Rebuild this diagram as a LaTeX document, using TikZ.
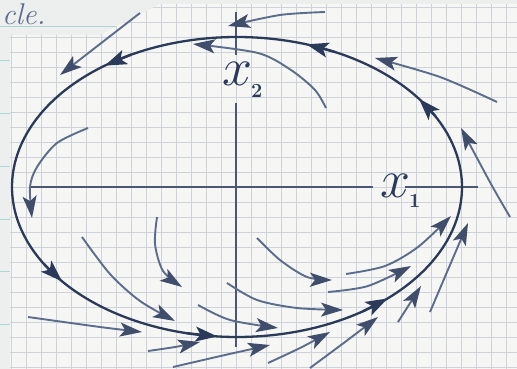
\documentclass[tikz,border=0pt]{standalone}
\usetikzlibrary{arrows.meta}
\definecolor{ink}{RGB}{44,58,90}
\definecolor{inklight}{RGB}{92,108,138}
\definecolor{gridblue}{RGB}{206,210,218}
\definecolor{paper}{RGB}{246,246,244}
\definecolor{sheet}{RGB}{236,239,237}
\definecolor{ruled}{RGB}{172,214,214}
\tikzset{
  cycleline/.style={draw=ink, line width=2.3pt},
  cyclearrow/.style={draw=ink, line width=2.3pt, -{Stealth[length=22pt,width=15pt,inset=5pt]}},
  traj/.style={draw=inklight, line width=1.9pt, -{Stealth[length=22pt,width=14pt,inset=5pt,color=ink!90]}},
  axisline/.style={draw=ink!85, line width=1.3pt},
  axislabel/.style={text=ink, inner sep=0pt, anchor=base west, font=\fontsize{20}{20}\selectfont\bfseries},
}

\begin{document}
\begin{tikzpicture}[x=1pt,y=-1pt]
  \useasboundingbox (0,0) rectangle (517,369);
  % Sheet underneath
  \fill[sheet] (0,0) rectangle (517,369);
  \foreach \y in {26,60,113,166,219,271,324}
    \draw[ruled, line width=0.8pt] (0,\y) -- (517,\y);
  \node[text=inklight, inner sep=0pt, anchor=base west, font=\fontsize{30}{30}\selectfont\itshape] (cle) at (2,25) {cle.};
  % Grid paper
  \fill[paper] (10,35) -- (100,35) -- (160,4) -- (517,4) -- (517,369) -- (10,369) -- cycle;
  \begin{scope}
    \clip (10,35) -- (100,35) -- (160,4) -- (517,4) -- (517,369) -- (10,369) -- cycle;
    \foreach \x in {0,...,34}
      \draw[gridblue, line width=0.6pt] (11+15*\x,0) -- (11+15*\x,369);
    \foreach \y in {0,...,24}
      \draw[gridblue, line width=0.6pt] (0,7+15*\y) -- (517,7+15*\y);
  \end{scope}
  % Axes
  \draw[axisline] (31,187) -- (373,187);
  \draw[axisline] (405,187) -- (478,187);
  \draw[axisline] (236,12) -- (236,55);
  \draw[axisline] (236,103) -- (236,347);
  \node[axislabel] (xone) at (380,197) {\scalebox{2.6}{$x$}\kern-1pt\raisebox{-10pt}{1}};
  \node[axislabel] (xtwo) at (222,85) {\scalebox{2.6}{$x$}\kern-1pt\raisebox{-13pt}{2}};
  % Limit cycle
  \draw[cycleline] plot[smooth cycle, domain=0:357, samples=120] ({237+225*cos(\x)},{187-150*sin(\x)});
  \foreach \t in {36,72,126,219,265,312}
    \draw[cyclearrow] ({237+225*cos(\t-8)},{187-150*sin(\t-8)}) -- ({237+225*cos(\t)},{187-150*sin(\t)});
  % Outer trajectories
  \draw[traj] (140,13) -- (60,75);
  \draw[traj] plot[smooth] coordinates {(325,12) (280,15) (228,26)};
  \draw[traj] plot[smooth] coordinates {(497,102) (440,77) (375,58)};
  \draw[traj] plot[smooth] coordinates {(510,217) (491,184) (461,128)};
  \draw[traj] plot[smooth] coordinates {(28,317) (100,327) (142,332)};
  \draw[traj] plot[smooth] coordinates {(148,351) (175,347) (200,342)};
  \draw[traj] plot[smooth] coordinates {(173,367) (225,355) (270,345)};
  \draw[traj] plot[smooth] coordinates {(268,363) (300,348) (330,332)};
  \draw[traj] plot[smooth] coordinates {(310,368) (345,342) (378,317)};
  \draw[traj] (398,322) -- (421,286);
  \draw[traj] plot[smooth] coordinates {(430,312) (450,265) (468,223)};
  % Inner trajectories
  \draw[traj] plot[smooth] coordinates {(88,128) (57,143) (37,167) (30,187) (32,218)};
  \draw[traj] plot[smooth] coordinates {(326,108) (315,90) (291,70) (258,53) (193,44)};
  \draw[traj] plot[smooth] coordinates {(157,217) (155,244) (163,271) (182,287)};
  \draw[traj] plot[smooth] coordinates {(82,237) (110,274) (140,301) (175,321)};
  \draw[traj] plot[smooth] coordinates {(227,283) (257,300) (297,308) (343,310)};
  \draw[traj] plot[smooth] coordinates {(198,305) (230,320) (278,328)};
  \draw[traj] plot[smooth] coordinates {(257,238) (280,260) (307,277) (332,280)};
  \draw[traj] plot[smooth] coordinates {(346,274) (385,266) (418,247) (451,216)};
  \draw[traj] plot[smooth] coordinates {(328,292) (368,286) (411,266)};
\end{tikzpicture}
\end{document}
